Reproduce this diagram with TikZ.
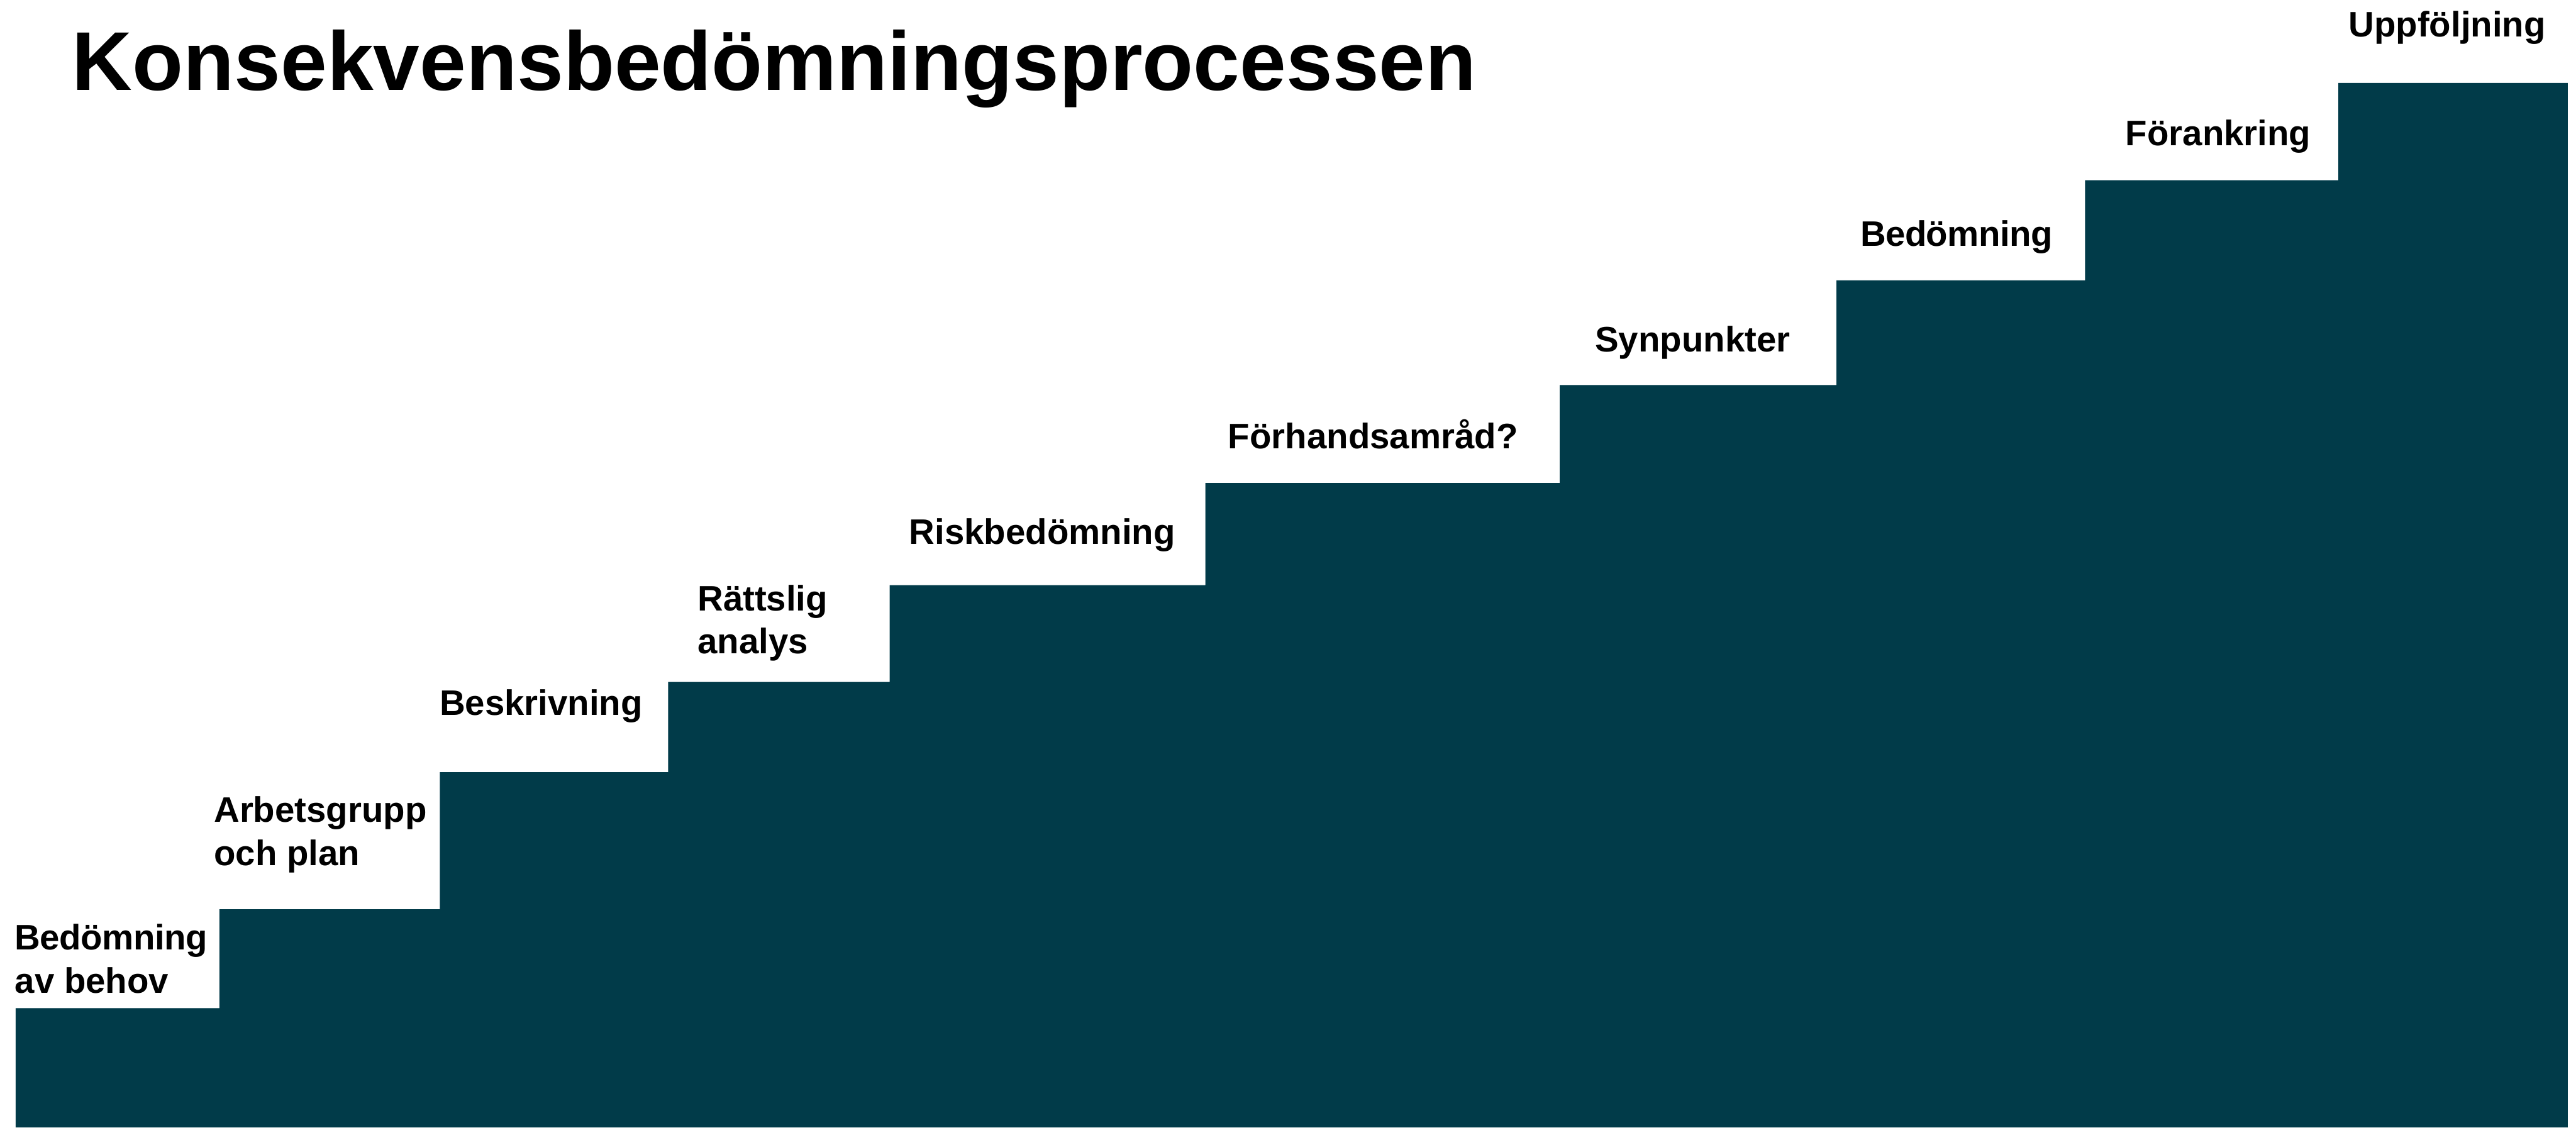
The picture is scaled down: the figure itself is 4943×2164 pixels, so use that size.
\documentclass[tikz,border=0pt]{standalone}
\usepackage{fontspec}
\setmainfont{Liberation Sans}
\newfontfamily\tightfont{Liberation Sans}[LetterSpace=-1.0]
\definecolor{stair}{RGB}{1,59,73}
\tikzset{
  lbl/.style={anchor=base west, inner sep=0pt, text=black,
    font=\fontsize{19.35pt}{23.6pt}\selectfont\bfseries},
  ttl/.style={anchor=base west, inner sep=0pt, text=black,
    font=\fontsize{45.5pt}{52pt}\selectfont\bfseries},
}
\newcommand{\twolines}[2]{\begin{tabular}[t]{@{}l@{}}#1\\#2\end{tabular}}
\begin{document}
\begin{tikzpicture}[x=0.01cm,y=-0.01cm]
\useasboundingbox (0,0) rectangle (4943,2164);
\fill[stair] (30,2164) -- (30,1935) -- (421,1935) -- (421,1745) -- (844,1745)
  -- (844,1482) -- (1282,1482) -- (1282,1309) -- (1707,1309) -- (1707,1123)
  -- (2313,1123) -- (2313,927) -- (2993,927) -- (2993,739) -- (3524,739)
  -- (3524,538) -- (4001,538) -- (4001,346) -- (4487,346) -- (4487,159)
  -- (4927,159) -- (4927,2164) -- cycle;
\node[ttl] (title) at (138,173) {Konsekvensbedömningsprocessen};
\node[lbl] (l1) at (28,1823) {\twolines{{\tightfont Bedömning}}{av behov}};
\node[lbl] (l2) at (410,1578) {\twolines{Arbetsgrupp}{och plan}};
\node[lbl] (l3) at (843,1373) {Beskrivning};
\node[lbl] (l4) at (1338,1172) {\twolines{Rättslig}{analys}};
\node[lbl] (l5) at (1744,1045) {Riskbedömning};
\node[lbl] (l6) at (2356,861) {Förhandsamråd?};
\node[lbl] (l7) at (3060,675) {Synpunkter};
\node[lbl] (l8) at (3569,472) {{\tightfont Bedömning}};
\node[lbl] (l9) at (4078,279) {Förankring};
\node[lbl] (l10) at (4506,71) {Uppföljning};
\end{tikzpicture}
\end{document}
